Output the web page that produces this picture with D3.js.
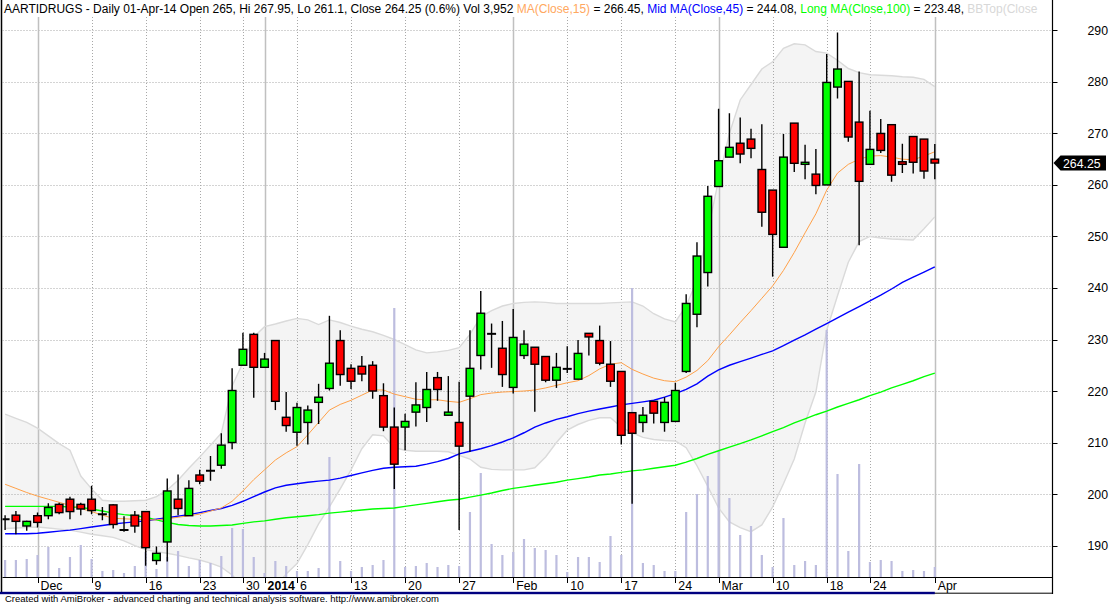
<!DOCTYPE html>
<html><head><meta charset="utf-8">
<script src="https://cdn.jsdelivr.net/npm/d3@7"></script>
<style>
body{margin:0;background:#fff}
svg{display:block}
text{font-family:"Liberation Sans",Arial,sans-serif}
</style>
</head><body>
<svg id="c" width="1113" height="605"></svg>
<script>
// ---------------- DATA ----------------
const dates = ["2013-11-27","2013-11-28","2013-11-29",
"2013-12-02","2013-12-03","2013-12-04","2013-12-05","2013-12-06",
"2013-12-09","2013-12-10","2013-12-11","2013-12-12","2013-12-13",
"2013-12-16","2013-12-17","2013-12-18","2013-12-19","2013-12-20",
"2013-12-23","2013-12-24","2013-12-26","2013-12-27",
"2013-12-30","2013-12-31",
"2014-01-01","2014-01-02","2014-01-03",
"2014-01-06","2014-01-07","2014-01-08","2014-01-09","2014-01-10",
"2014-01-13","2014-01-14","2014-01-15","2014-01-16","2014-01-17",
"2014-01-20","2014-01-21","2014-01-22","2014-01-23","2014-01-24",
"2014-01-27","2014-01-28","2014-01-29","2014-01-30","2014-01-31",
"2014-02-03","2014-02-04","2014-02-05","2014-02-06","2014-02-07",
"2014-02-10","2014-02-11","2014-02-12","2014-02-13","2014-02-14",
"2014-02-17","2014-02-18","2014-02-19","2014-02-20","2014-02-21",
"2014-02-24","2014-02-25","2014-02-26","2014-02-28",
"2014-03-03","2014-03-04","2014-03-05","2014-03-06","2014-03-07",
"2014-03-10","2014-03-11","2014-03-12","2014-03-13","2014-03-14",
"2014-03-18","2014-03-19","2014-03-20","2014-03-21",
"2014-03-24","2014-03-25","2014-03-26","2014-03-27","2014-03-28",
"2014-03-31","2014-04-01"];

const opens = [195.1,195.9,193.8,195.8,195.8,198.0,199.0,198.0,199.0,196.1,
197.9,193.0,195.9,196.6,187.1,190.7,199.0,195.8,203.7,204.5,
205.6,210.0,225.0,231.0,224.6,229.8,214.9,212.0,213.9,217.8,
220.5,229.8,224.4,224.8,225.0,219.1,213.0,213.0,215.9,216.8,
222.6,215.3,213.9,219.0,226.9,231.1,228.3,220.7,226.9,228.5,
226.7,222.1,224.3,222.3,231.2,229.8,225.2,223.8,215.8,213.9,
218.0,213.9,214.1,223.8,234.9,243.0,259.7,265.4,268.1,268.9,
263.0,259.0,247.9,272.0,264.0,262.1,260.0,279.0,280.1,272.2,
264.0,270.0,271.7,264.5,269.4,268.9,265.0];

const highs = [195.9,196.7,194.8,196.4,198.2,198.3,199.5,198.3,201.6,197.5,
198.0,195.7,196.7,196.6,189.8,203.0,203.8,202.7,204.7,207.4,
211.8,224.4,231.3,231.3,227.4,229.8,219.8,217.7,217.2,221.4,
234.6,231.8,225.2,226.8,225.8,221.5,216.8,215.6,221.7,223.7,
223.7,222.9,221.8,231.8,239.4,233.1,233.6,235.9,231.8,228.5,
226.7,227.4,228.7,229.9,231.2,232.7,229.7,223.8,215.8,216.9,
218.0,218.8,221.6,238.8,248.9,259.8,274.8,273.9,273.1,270.9,
271.8,259.0,269.9,272.0,267.8,267.0,285.4,289.6,280.1,282.0,
274.4,272.8,271.7,268.0,269.4,268.9,267.95];

const lows = [193.0,192.2,192.9,193.5,195.1,196.1,195.1,195.9,196.1,194.9,
193.3,192.7,192.5,186.1,186.3,186.9,195.9,195.8,201.9,202.6,
204.9,208.7,225.0,218.7,224.6,216.3,212.1,209.4,209.6,213.6,
220.1,221.0,220.4,221.9,218.5,212.2,201.0,208.5,213.1,214.0,
218.1,215.3,193.0,208.2,224.2,224.5,220.8,219.5,226.2,216.0,
221.7,220.6,223.5,222.3,226.9,225.0,220.8,209.6,198.1,212.0,
213.7,212.1,214.1,223.5,232.4,240.3,259.7,265.4,264.2,265.2,
251.9,242.2,247.9,262.5,261.1,258.2,260.0,276.8,268.4,248.3,
264.0,266.2,260.6,262.3,262.2,261.2,261.1];

const closes = [195.1,194.7,194.7,194.5,197.4,196.4,196.6,197.1,196.8,196.1,
194.1,193.0,193.8,189.6,188.5,200.6,197.2,201.1,202.5,204.5,
209.5,220.1,228.1,224.6,226.2,218.0,213.3,216.8,216.3,218.8,
225.4,223.2,221.9,223.3,220.0,213.0,205.8,214.1,217.3,220.3,
220.3,215.9,209.3,224.4,235.1,231.1,223.2,230.4,229.1,225.2,
222.1,224.6,224.3,227.3,230.5,225.4,221.9,211.4,211.8,215.3,
215.7,217.8,220.1,237.0,246.2,257.8,264.7,267.3,266.0,267.1,
254.7,250.4,265.4,264.2,264.4,259.9,279.9,282.5,269.3,260.7,
266.9,266.7,261.9,264.0,264.4,262.7,264.25];

const volumes = [6710,6720,7100,8700,11850,3560,7900,12640,7120,2370,
2760,1580,4350,9870,3160,7900,10270,4340,6710,5530,
8290,19360,18950,7900,1580,6320,4350,2370,2380,3550,
47400,6320,2370,3950,4740,6720,106260,3950,4350,5530,
3950,4740,4340,25680,41080,13040,8690,9880,15010,11460,
10660,8690,1980,7900,7910,5920,16200,8690,114150,5530,
4740,2370,2380,25670,32790,39900,49770,31200,16590,20150,
8690,3950,23300,4740,6320,4740,97560,40690,10270,44630,
5930,6720,6320,2370,2760,2370,3952];

const ma15 = [201.9,201.1,200.3,199.6,199.0,198.4,197.8,197.2,196.6,195.9,
195.3,195.2,195.1,195.0,195.0,195.2,195.5,195.8,196.1,196.7,
197.3,198.6,200.6,202.8,204.7,206.6,208.0,209.2,211.5,213.9,
216.3,217.4,218.2,219.2,220.2,220.2,219.4,218.9,218.4,218.3,
218.3,218.0,217.8,218.5,219.3,219.6,219.8,219.9,220.0,220.2,
220.6,221.1,221.6,222.0,223.0,224.3,225.2,225.5,224.2,223.3,
222.5,222.0,221.8,222.7,224.0,225.9,228.6,230.9,233.3,235.6,
238.0,240.4,243.4,246.9,250.7,254.4,259.0,262.3,264.0,265.0,
265.6,265.7,265.4,265.0,264.9,265.6,266.45];

const ma45 = [192.3,192.3,192.3,192.4,192.6,192.8,193.0,193.3,193.6,193.9,
194.2,194.4,194.6,194.8,195.1,195.4,195.7,196.0,196.4,196.8,
197.2,197.8,198.6,199.5,200.4,201.2,201.7,202.0,202.3,202.5,
202.7,203.1,203.6,204.1,204.6,205.0,205.2,205.3,205.4,205.8,
206.3,206.9,207.8,208.3,208.8,209.4,210.1,210.9,211.9,213.0,
213.8,214.5,215.0,215.6,216.1,216.5,216.9,217.3,217.6,217.9,
218.2,218.8,219.5,220.3,221.4,222.9,224.1,225.0,225.7,226.4,
227.1,227.8,228.8,229.9,230.9,232.0,233.1,234.2,235.3,236.4,
237.5,238.6,239.8,241.1,242.1,243.1,244.08];

const ma100 = [197.6,197.6,197.6,197.6,197.6,197.6,197.5,197.4,197.1,196.7,
196.3,196.0,195.8,195.5,195.0,194.5,194.1,193.9,193.8,193.8,
193.9,194.0,194.3,194.6,194.8,195.1,195.4,195.6,195.8,196.0,
196.3,196.5,196.7,196.9,197.1,197.2,197.3,197.6,197.9,198.2,
198.5,198.8,199.0,199.4,199.8,200.2,200.7,201.1,201.4,201.7,
202.0,202.3,202.7,203.0,203.3,203.7,203.9,204.2,204.5,204.7,
205.0,205.3,205.6,206.2,206.9,207.7,208.4,209.1,209.8,210.5,
211.3,212.1,212.9,213.8,214.6,215.4,216.1,216.9,217.6,218.3,
219.1,219.8,220.6,221.3,222.0,222.8,223.48];

const bbTop = [215.5,214.7,213.9,212.8,211.3,209.8,208.5,203.5,201.0,198.8,
198.6,198.6,198.7,198.8,199.5,200.8,202.7,205.0,207.2,209.5,
211.8,221.0,225.5,230.5,232.5,233.0,233.6,234.1,233.8,232.9,
233.8,233.3,232.6,232.0,231.5,230.8,230.0,229.0,228.0,227.4,
227.6,227.9,228.4,231.0,234.4,235.6,236.5,237.0,237.2,237.3,
237.2,237.0,237.0,237.0,237.0,237.0,237.1,237.2,237.3,236.5,
235.0,234.0,233.4,236.5,241.5,251.0,261.0,270.0,276.5,279.5,
282.5,283.9,286.5,287.4,287.2,285.9,285.6,284.2,282.6,281.8,
281.4,281.3,281.2,281.0,280.9,280.5,279.1];

const bbBot = [193.3,193.4,193.5,193.6,193.4,193.2,193.0,192.6,192.2,191.9,
191.6,190.9,190.0,189.2,188.8,188.5,188.1,187.6,187.2,186.6,
185.8,184.3,182.0,180.5,180.5,182.0,184.5,186.5,190.2,194.2,
197.5,201.0,204.7,208.8,211.5,211.3,209.0,208.5,208.3,208.3,
208.3,208.2,207.5,206.8,205.2,204.8,204.7,204.7,204.7,205.1,
207.2,210.0,212.4,213.5,214.3,214.8,214.8,213.0,211.9,211.0,
210.6,210.4,210.3,209.0,205.5,201.5,197.3,194.6,193.5,192.7,
194.0,197.5,202.0,206.8,213.8,219.8,231.8,238.5,245.0,249.0,
250.0,249.7,249.5,249.4,249.3,251.5,253.8];

const tickDates  = ["2013-12-02","2013-12-09","2013-12-16","2013-12-23","2013-12-30","2014-01-01","2014-01-06","2014-01-13","2014-01-20","2014-01-27","2014-02-03","2014-02-10","2014-02-17","2014-02-24","2014-03-03","2014-03-10","2014-03-18","2014-03-24","2014-04-01"];
const tickLabels = ["Dec","9","16","23","30","2014","6","13","20","27","Feb","10","17","24","Mar","10","18","24","Apr"];
const monthTicks = ["2013-12-02","2014-01-01","2014-02-03","2014-03-03","2014-04-01"];
const priceTicks = [190,200,210,220,230,240,250,260,270,280,290];

// ---------------- CHART ----------------
const svg = d3.select("#c");
const L = 2.5, R = 1052.5, T = 17, B = 577;

const x = d3.scalePoint().domain(dates).range([5.1, 934.8]);
const y = d3.scaleLinear().domain([183.9, 292.6]).range([B, T]);
const yv = d3.scaleLinear().domain([0, d3.max(volumes)]).range([B, 288]);

svg.append("rect").attr("width",1113).attr("height",605).attr("fill","#fff");

const defs = svg.append("defs");
defs.append("clipPath").attr("id","plot").append("rect")
  .attr("x",L).attr("y",T).attr("width",R-L).attr("height",B-T);

const g = svg.append("g").attr("clip-path","url(#plot)");
const idx = d3.range(dates.length);

// Bollinger cloud
g.append("path")
  .attr("d", d3.area().x(i=>x(dates[i])).y0(i=>y(bbBot[i])).y1(i=>y(bbTop[i]))(idx))
  .attr("fill","#f4f4f4");

// grid
g.selectAll(".hg").data(priceTicks).join("line")
  .attr("x1",L).attr("x2",R).attr("y1",d=>Math.round(y(d))+0.5).attr("y2",d=>Math.round(y(d))+0.5)
  .attr("stroke","#a8a8a8").attr("stroke-dasharray","1,2");
g.selectAll(".vg").data(tickDates).join("line")
  .attr("x1",d=>Math.round(x(d))+0.5).attr("x2",d=>Math.round(x(d))+0.5)
  .attr("y1",T).attr("y2",B)
  .attr("stroke",d=>monthTicks.includes(d)?"#c0c0c0":"#a8a8a8")
  .attr("stroke-width",d=>monthTicks.includes(d)?1.5:1)
  .attr("stroke-dasharray",d=>monthTicks.includes(d)?null:"1,2");

// band edges
[bbTop, bbBot].forEach(arr=>{
  g.append("path").attr("d", d3.line().x(i=>x(dates[i])).y(i=>y(arr[i]))(idx))
   .attr("fill","none").attr("stroke","#dadada").attr("stroke-width",1.4);
});

// volume
g.selectAll(".vol").data(idx).join("line")
  .attr("x1",i=>x(dates[i])).attr("x2",i=>x(dates[i]))
  .attr("y1",B).attr("y2",i=>yv(volumes[i]))
  .attr("stroke","#bdbddf").attr("stroke-width",2.2);

// moving averages
const ln = arr => d3.line().x(i=>x(dates[i])).y(i=>y(arr[i]))(idx);
g.append("path").attr("d",ln(ma100)).attr("fill","none").attr("stroke","#00ff00").attr("stroke-width",1.4);
g.append("path").attr("d",ln(ma45)).attr("fill","none").attr("stroke","#0000ff").attr("stroke-width",1.4);
g.append("path").attr("d",ln(ma15)).attr("fill","none").attr("stroke","#ffa048").attr("stroke-width",1);

// candles
const cg = g.append("g");
idx.forEach(i=>{
  const cx = x(dates[i]);
  const o=opens[i], c=closes[i];
  cg.append("line").attr("x1",cx).attr("x2",cx).attr("y1",y(highs[i])).attr("y2",y(lows[i]))
    .attr("stroke","#000").attr("stroke-width",1.4);
  if (o === c) {
    cg.append("line").attr("x1",cx-4.5).attr("x2",cx+4.5).attr("y1",y(o)).attr("y2",y(o))
      .attr("stroke","#000").attr("stroke-width",2);
  } else {
    const top = y(Math.max(o,c)), bot = y(Math.min(o,c));
    cg.append("rect").attr("x",cx-3.8).attr("width",7.6)
      .attr("y",top).attr("height",Math.max(1,bot-top))
      .attr("fill", c>o ? "#00ff00" : "#ff0000")
      .attr("stroke","#000").attr("stroke-width",1.4);
  }
});

// frame & axes
svg.append("line").attr("x1",1.5).attr("x2",1.5).attr("y1",0).attr("y2",594).attr("stroke","#000").attr("stroke-width",1.5);
svg.append("line").attr("x1",R).attr("x2",R).attr("y1",0).attr("y2",594).attr("stroke","#000").attr("stroke-width",1.2);
svg.append("line").attr("x1",L).attr("x2",R).attr("y1",B+0.5).attr("y2",B+0.5).attr("stroke","#000").attr("stroke-width",1.2);
svg.append("line").attr("x1",0).attr("x2",R).attr("y1",593.2).attr("y2",593.2).attr("stroke","#000").attr("stroke-width",1);
svg.append("rect").attr("x",0).attr("y",591.8).attr("width",x(dates[dates.length-1])).attr("height",2.4).attr("fill","#000080");

// x ticks
svg.selectAll(".xt").data(tickDates).join("line")
  .attr("x1",d=>Math.round(x(d))+0.5).attr("x2",d=>Math.round(x(d))+0.5)
  .attr("y1",B).attr("y2",B+6).attr("stroke","#000");
svg.selectAll(".xl").data(tickDates).join("text")
  .attr("x",d=>x(d)+3).attr("y",589.5)
  .attr("font-size",12.3)
  .attr("font-weight",(d,i)=>tickLabels[i]==="2014"?"bold":"normal")
  .attr("fill","#000")
  .text((d,i)=>tickLabels[i]);

// y ticks
svg.selectAll(".yt").data(priceTicks).join("line")
  .attr("x1",R).attr("x2",R+5).attr("y1",d=>Math.round(y(d))+0.5).attr("y2",d=>Math.round(y(d))+0.5)
  .attr("stroke","#000");
svg.selectAll(".yl").data(priceTicks).join("text")
  .attr("x",1108).attr("y",d=>y(d)+4.5).attr("text-anchor","end")
  .attr("font-size",12.3).attr("fill","#000").text(d=>d);

// last price label
const lastC = closes[closes.length-1];
const yc = y(lastC);
svg.append("path")
  .attr("d",`M${R+1},${yc} L${R+8},${yc-7.5} L1106,${yc-7.5} L1106,${yc+7.5} L${R+8},${yc+7.5} Z`)
  .attr("fill","#000");
svg.append("text").attr("x",1063).attr("y",yc+4.5).attr("font-size",12.3).attr("fill","#fff").text(lastC.toFixed(2));

// title
const n = closes.length-1;
const pct = ((closes[n]-closes[n-1])/closes[n-1]*100).toFixed(1);
const title = svg.append("text").attr("x",4).attr("y",13).attr("font-size",12).attr("xml:space","preserve");
const parts = [
  [`AARTIDRUGS - Daily 01-Apr-14 Open ${opens[n]}, Hi ${highs[n]}, Lo ${lows[n]}, Close ${closes[n]} (${pct}%) Vol ${d3.format(",")(volumes[n])} `, "#000"],
  ["MA(Close,15)", "#ffa860"],
  [` = ${ma15[n].toFixed(2)}, `, "#000"],
  ["Mid MA(Close,45)", "#0000ff"],
  [` = ${ma45[n].toFixed(2)}, `, "#000"],
  ["Long MA(Close,100)", "#00ff00"],
  [` = ${ma100[n].toFixed(2)}, `, "#000"],
  ["BBTop(Close", "#d8d8d8"]
];
parts.forEach(p=>title.append("tspan").attr("fill",p[1]).text(p[0]));

// footer
svg.append("text").attr("x",5).attr("y",602).attr("font-size",9.5).attr("fill","#000")
  .text("Created with AmiBroker - advanced charting and technical analysis software. http://www.amibroker.com");
</script>
</body></html>
